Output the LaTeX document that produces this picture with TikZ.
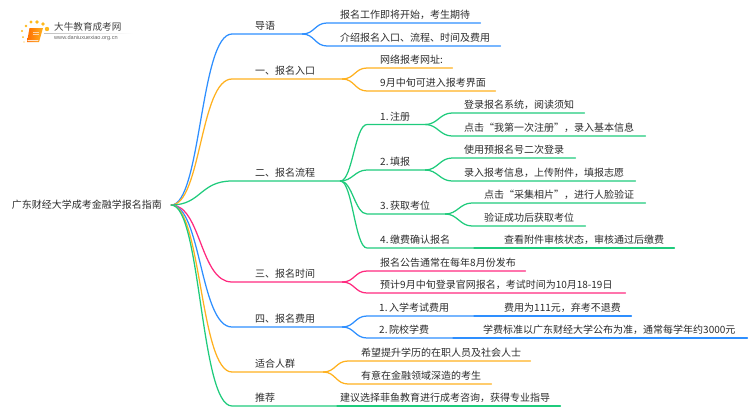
\documentclass[tikz,border=0pt]{standalone}
\usepackage{fontspec}
\setmainfont{Noto Sans CJK SC}
\newfontfamily\urlfont{Liberation Sans}
\definecolor{bluel}{HTML}{2E8FFF}
\definecolor{orangel}{HTML}{FFB11F}
\definecolor{greenl}{HTML}{1FCB7C}
\definecolor{pinkl}{HTML}{FF2A7F}
\definecolor{textc}{HTML}{2B2B2B}
\newcommand{\pad}[1]{\hspace*{#1pt}}
\tikzset{
	nd/.style={anchor=south west,inner xsep=0pt,inner ysep=1.8pt,align=left,
		text height=8.8pt,text depth=2.4pt,text=textc,font=\fontsize{10pt}{12pt}\selectfont},
	ln/.style={line width=1.25pt,line cap=round},
}
\begin{document}
\begin{tikzpicture}[x=1pt,y=-1pt]
	\useasboundingbox (0,0) rectangle (750,410);
	% logo
	\foreach \px/\py/\pr in {24/42/.7,23/37/1,22/31/1.2,26/26/1.4,31/22/1.6,37/22/1.8,43/24/1.9,47/29/2.2}
		\fill[orangel!90!yellow] (\px,\py) circle (\pr);
	\shade[left color=orange!85!red,right color=orangel] (29.5,28) -- (43,28) -- (39,42) -- (27,42) -- cycle;
	\fill[orange!20] (27.5,40) -- (38.5,40) -- (38,41) -- (27.5,41) -- cycle;
	\draw[orange!35,line width=.5pt] (33,32) -- (39,32) (32.5,34.5) -- (38.5,34.5);
	\shade[left color=black!25,right color=white] (44,33) rectangle (133,33.6);
	\node[inner sep=0pt,anchor=west,text=black!75,font=\fontsize{9.6pt}{11pt}\selectfont] (logotext) at (54,27) {大牛教育成考网};
	\node[inner sep=0pt,anchor=west,text=black!60,font=\urlfont\fontsize{5.6pt}{7pt}\selectfont] (logourl) at (54,38.5) {www.daniuxuexiao.org.cn};

	\node[inner xsep=9pt,inner ysep=2pt,text=textc,font=\fontsize{10pt}{12pt}\selectfont] (root) at (87,205) {广东财经大学成考金融学报名指南};

	% first level
	\node[nd,text width=70pt] (daoyu) at (232,34) {\pad{23}导语};
	\node[nd,text width=110pt] (rukou) at (232,79) {\pad{23}一、报名入口};
	\node[nd,text width=108pt] (liucheng) at (232,181) {\pad{23}二、报名流程};
	\node[nd,text width=110pt] (shijian) at (232,282) {\pad{23}三、报名时间};
	\node[nd,text width=110pt] (feiyong) at (232,327) {\pad{23}四、报名费用};
	\node[nd,text width=91pt] (renqun) at (232,372) {\pad{23}适合人群};
	\node[nd,text width=108pt] (tuijian) at (232,406) {\pad{23}推荐};

	% daoyu
	\node[nd,text width=153pt] (dy1) at (327,23) {\pad{13}报名工作即将开始，考生期待};
	\node[nd,text width=173pt] (dy2) at (327,46) {\pad{13}介绍报名入口、流程、时间及费用};
	% rukou
	\node[nd,text width=85pt] (rk1) at (367,68) {\pad{13}网络报考网址:};
	\node[nd,text width=128pt] (rk2) at (367,91) {\pad{13}9月中旬可进入报考界面};
	% liucheng
	\node[nd,text width=58pt] (zhuce) at (367,124.5) {\pad{13}1.\hspace{1.5pt}注册};
	\node[nd,text width=58pt] (tianbao) at (367,170) {\pad{13}2.\hspace{1.5pt}填报};
	\node[nd,text width=78pt] (kaowei) at (367,214) {\pad{13}3.\hspace{1.5pt}获取考位};
	\node[nd,text width=110pt] (jiaofei) at (367,248) {\pad{13}4.\hspace{1.5pt}缴费确认报名};
	\node[nd,text width=132pt] (zc1) at (452,113) {\pad{12}登录报名系统，阅读须知};
	\node[nd,text width=193pt] (zc2) at (452,136) {\pad{12}点击“我第一次注册”，录入基本信息};
	\node[nd,text width=123pt] (tb1) at (452,158) {\pad{12}使用预报名号二次登录};
	\node[nd,text width=183pt] (tb2) at (452,181) {\pad{12}录入报考信息，上传附件，填报志愿};
	\node[nd,text width=173pt] (kw1) at (472,203) {\pad{12}点击“采集相片”，进行人脸验证};
	\node[nd,text width=113pt] (kw2) at (472,226) {\pad{12}验证成功后获取考位};
	\node[nd,text width=197pt] (jf1) at (477,248) {\pad{27}查看附件审核状态，审核通过后缴费};
	% shijian
	\node[nd,text width=158pt] (sj1) at (367,271) {\pad{13}报名公告通常在每年8月份发布};
	\node[nd,text width=258pt] (sj2) at (367,293) {\pad{13}预计9月中旬登录官网报名，考试时间为10月18-19日};
	% feiyong
	\node[nd,text width=110pt] (ruxue) at (367,316) {\pad{12}1.\hspace{1.5pt}入学考试费用};
	\node[nd,text width=89pt] (xuefei) at (367,338) {\pad{12}2.\hspace{1.5pt}院校学费};
	\node[nd,text width=154pt] (rx1) at (477,316) {\pad{27}费用为111元，弃考不退费};
	\node[nd,text width=291pt] (xf1) at (456,338) {\pad{27}学费标准以广东财经大学公布为准，通常每学年约3000元};
	% renqun
	\node[nd,text width=182pt] (rq1) at (348,361) {\pad{13}希望提升学历的在职人员及社会人士};
	\node[nd,text width=143pt] (rq2) at (348,384) {\pad{13}有意在金融领域深造的考生};
	% tuijian
	\node[nd,text width=220pt] (tj1) at (340,406) {建议选择菲鱼教育进行成考咨询，获得专业指导};

	% root to first level
	\foreach \nm/\cl in {daoyu/bluel,rukou/orangel,liucheng/greenl,shijian/pinkl,feiyong/bluel,renqun/orangel,tuijian/greenl}
		\draw[ln,\cl] (root.east) .. controls +(30,0) and +(-32,0) .. (\nm.south west) -- (\nm.south east);

	% forks
	\foreach \a/\b/\cl in {daoyu/dy1/bluel,daoyu/dy2/bluel,rukou/rk1/orangel,rukou/rk2/orangel,
		liucheng/zhuce/greenl,liucheng/tianbao/greenl,liucheng/kaowei/greenl,liucheng/jiaofei/greenl,
		zhuce/zc1/greenl,zhuce/zc2/greenl,tianbao/tb1/greenl,tianbao/tb2/greenl,kaowei/kw1/greenl,kaowei/kw2/greenl,
		jiaofei/jf1/greenl,shijian/sj1/pinkl,shijian/sj2/pinkl,feiyong/ruxue/bluel,feiyong/xuefei/bluel,
		ruxue/rx1/bluel,xuefei/xf1/bluel,renqun/rq1/orangel,renqun/rq2/orangel,tuijian/tj1/greenl}
		\draw[ln,\cl] (\a.south east) .. controls +(12,0) and +(-12,0) .. (\b.south west) -- (\b.south east);
\end{tikzpicture}
\end{document}
